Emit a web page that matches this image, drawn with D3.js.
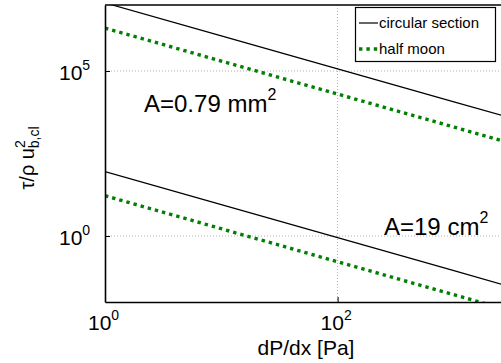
<!DOCTYPE html>
<html>
<head>
<meta charset="utf-8">
<script src="https://cdn.jsdelivr.net/npm/d3@7"></script>
<style>
  body { margin: 0; background: #fff; }
  text { font-family: "Liberation Sans", Arial, sans-serif; fill: #000; }
</style>
</head>
<body>
<div id="app"></div>
<script>
'use strict'

// pressure gradient [Pa/m] where the lines are sampled
const dpdx = [1, 10, 100, 1000, 10000];

// tau / rho u^2
const circularSmall = [1.16e7, 1.16e6, 1.16e5, 1.16e4, 1.16e3];
const halfMoonSmall = [2.0e6, 2.0e5, 2.0e4, 2.0e3, 2.0e2];
const circularLarge = [89, 8.9, 0.89, 0.089, 0.0089];
const halfMoonLarge = [16.6, 1.66, 0.166, 0.0166, 0.00166];

const xTicks = [1, 100];
const yTicks = [1, 1e5];
const xTickExp = ['0', '2'];
const yTickExp = ['0', '5'];

const legendLabels = ['circular section', 'half moon'];

let width = 501, height = 363;
let m = {left: 105, top: 5, right: 505, bottom: 302};

let svg = (
  d3.select('#app')
    .append('svg')
    .attr('width', width)
    .attr('height', height));

let x = d3.scaleLog().domain([1, 2750]).range([m.left, m.right]);
let y = d3.scaleLog().domain([1e-2, 1e7]).range([m.bottom, m.top]);

svg.append('clipPath').attr('id', 'plot')
  .append('rect')
    .attr('x', m.left).attr('y', m.top)
    .attr('width', m.right - m.left).attr('height', m.bottom - m.top);

// Grid lines
(svg.append('g')
  .selectAll('line')
    .data(xTicks.filter((d) => d > 1))
  .enter()
    .append('line')
      .attr('x1', (d) => x(d)).attr('x2', (d) => x(d))
      .attr('y1', m.top).attr('y2', m.bottom)
      .attr('stroke', '#b0b0b0')
      .attr('stroke-width', 1)
      .attr('stroke-dasharray', '1,2'));
(svg.append('g')
  .selectAll('line')
    .data(yTicks)
  .enter()
    .append('line')
      .attr('x1', m.left).attr('x2', m.right)
      .attr('y1', (d) => y(d)).attr('y2', (d) => y(d))
      .attr('stroke', '#b0b0b0')
      .attr('stroke-width', 1)
      .attr('stroke-dasharray', '1,2'));

// Lines
let line = d3.line()
  .x((d) => x(d[0]))
  .y((d) => y(d[1]));

let series = [
  {values: circularSmall, kind: 0},
  {values: halfMoonSmall, kind: 1},
  {values: circularLarge, kind: 0},
  {values: halfMoonLarge, kind: 1},
];

(svg.append('g')
  .attr('clip-path', 'url(#plot)')
  .selectAll('path')
    .data(series)
  .enter()
    .append('path')
      .attr('d', (s) => line(dpdx.map((d, i) => [d, s.values[i]])))
      .attr('fill', 'none')
      .attr('stroke', (s) => s.kind ? '#008000' : '#000')
      .attr('stroke-width', (s) => s.kind ? 3.4 : 1.2)
      .attr('stroke-dasharray', (s) => s.kind ? '3.4,4' : null));

// Axes
let xAxis = d3.axisBottom(x).tickValues(xTicks).tickSizeInner(-5).tickSizeOuter(0).tickFormat('');
let yAxis = d3.axisLeft(y).tickValues(yTicks).tickSizeInner(-5).tickSizeOuter(0).tickFormat('');

let gx = svg.append('g').attr('transform', `translate(0,${m.bottom})`).call(xAxis);
let gy = svg.append('g').attr('transform', `translate(${m.left},0)`).call(yAxis);
gx.select('.domain').attr('stroke-width', 1.6);
gy.select('.domain').attr('stroke-width', 1.6);

svg.append('line')
  .attr('x1', m.left).attr('x2', m.right)
  .attr('y1', m.top).attr('y2', m.top)
  .attr('stroke', '#000').attr('stroke-width', 1.6);

// Tick labels with superscripts
(svg.append('g')
  .selectAll('text')
    .data(xTicks)
  .enter()
    .append('text')
      .attr('x', (d) => x(d) - 17)
      .attr('y', m.bottom + 28)
      .attr('style', 'font-size: 21px')
      .each(function(d, i) {
        let t = d3.select(this);
        t.append('tspan').text('10');
        t.append('tspan').attr('dy', -10).attr('style', 'font-size: 14px').text(xTickExp[i]);
      }));

(svg.append('g')
  .selectAll('text')
    .data(yTicks)
  .enter()
    .append('text')
      .attr('x', 59)
      .attr('y', (d) => y(d) + 9)
      .attr('style', 'font-size: 21px')
      .each(function(d, i) {
        let t = d3.select(this);
        t.append('tspan').text('10');
        t.append('tspan').attr('dy', -10).attr('style', 'font-size: 14px').text(yTickExp[i]);
      }));

// Axis titles
svg.append('text')
  .attr('x', 306)
  .attr('y', 355)
  .attr('text-anchor', 'middle')
  .attr('style', 'font-size: 21px')
  .text('dP/dx [Pa]');

let yl = (svg.append('text')
  .attr('transform', 'translate(34,158) rotate(-90)')
  .attr('text-anchor', 'middle')
  .attr('style', 'font-size: 20px'));
yl.append('tspan').text('τ/ρ u');
yl.append('tspan').attr('dy', -9).attr('style', 'font-size: 14px').text('2');
yl.append('tspan').attr('dx', -8).attr('dy', 14).attr('style', 'font-size: 14px').text('b,cl');

// Annotations
let notes = [
  {label: 'A=0.79 mm', x: 144, y: 112},
  {label: 'A=19 cm', x: 384, y: 235},
];
(svg.append('g')
  .selectAll('text')
    .data(notes)
  .enter()
    .append('text')
      .attr('x', (d) => d.x)
      .attr('y', (d) => d.y)
      .attr('style', 'font-size: 24px')
      .each(function(d) {
        let t = d3.select(this);
        t.append('tspan').text(d.label);
        t.append('tspan').attr('dy', -12).attr('style', 'font-size: 16px').text('2');
      }));

// Legend
let lg = svg.append('g');
lg.append('rect')
  .attr('x', 355.5).attr('y', 7.5)
  .attr('width', 140).attr('height', 54)
  .attr('fill', '#fff').attr('stroke', '#000').attr('stroke-width', 1.2);
(lg.selectAll('line')
    .data(legendLabels)
  .enter()
    .append('line')
      .attr('x1', 359).attr('x2', 378)
      .attr('y1', (d, i) => 23 + i * 26).attr('y2', (d, i) => 23 + i * 26)
      .attr('stroke', (d, i) => i ? '#008000' : '#000')
      .attr('stroke-width', (d, i) => i ? 3.4 : 1.2)
      .attr('stroke-dasharray', (d, i) => i ? '3.4,4' : null));
(lg.selectAll('text')
    .data(legendLabels)
  .enter()
    .append('text')
      .attr('x', 379)
      .attr('y', (d, i) => 28 + i * 26)
      .attr('style', 'font-size: 15px')
      .text((d) => d));
</script>
</body>
</html>
